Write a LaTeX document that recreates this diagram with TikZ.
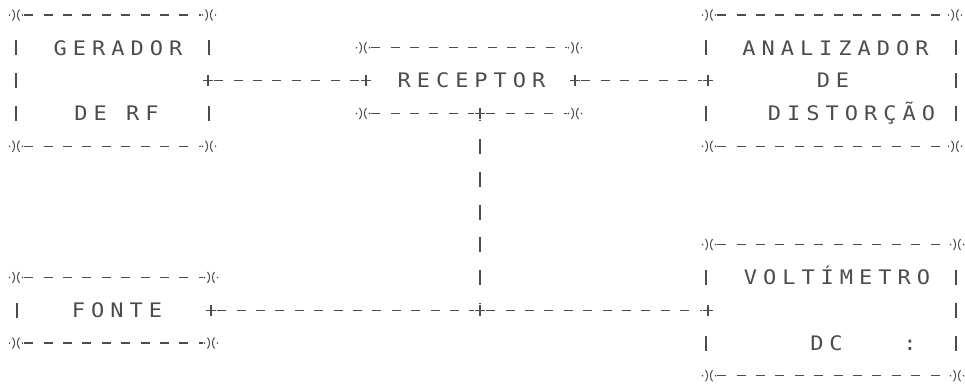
\documentclass[tikz,border=0pt]{standalone}
\usepackage{fontspec}
\newfontfamily\dotfont[LetterSpace=30,FakeStretch=1.1]{DejaVu Sans Mono}
\colorlet{ink}{black!70}
\tikzset{
  label/.style={font=\dotfont\fontsize{20}{20}\selectfont, text=ink, inner sep=0, anchor=base},
  rule/.style={draw=ink, line width=1.1pt, dash pattern=on 9pt off 10.4pt},
  wire/.style={draw=ink, line width=1.1pt, dash pattern=on 9pt off 10.4pt},
  vwire/.style={draw=ink, line width=1.4pt, dash pattern=on 15pt off 17.8pt, dash phase=13.5pt},
  bar/.style={draw=ink, line width=1.4pt},
  star/.style={minimum size=16pt, inner sep=0, path picture={
    \draw[ink, line width=1pt] (path picture bounding box.center) ++(-3.5pt,5.5pt) to[out=-50,in=50] ++(0,-11pt);
    \draw[ink, line width=1pt] (path picture bounding box.center) ++(3.5pt,5.5pt) to[out=-130,in=130] ++(0,-11pt);
    \fill[ink] (path picture bounding box.center) ++(-6.5pt,0) circle (.9pt) ++(13pt,0) circle (.9pt);}},
  port/.style={minimum size=12pt, inner sep=0, path picture={
    \draw[ink, line width=1.2pt] (path picture bounding box.center) ++(0,5.5pt) -- ++(0,-11pt);
    \draw[ink, line width=1.2pt] (path picture bounding box.center) ++(-5pt,0) -- ++(10pt,0);}},
}
\begin{document}
\begin{tikzpicture}[x=1pt,y=-1pt]
  \useasboundingbox[fill=white] (0,0) rectangle (965,383);
  % box corners
  \foreach \n/\x/\y in {g1/16/15, g2/209/15, g3/16/146.2, g4/209/146.2,
                        r1/363/47.8, r2/575/47.8, r3/363/113.4, r4/575/113.4,
                        a1/709/15, a2/955/15, a3/709/146.2, a4/955/146.2,
                        f1/16/277.4, f2/211/277.4, f3/16/343, f4/211/343,
                        v1/709/244.6, v2/957/244.6, v3/709/375.8, v4/957/375.8}
    \node[star] (\n) at (\x,\y) {};
  % ports and junctions
  \foreach \n/\x/\y in {gout/208/80.6, rin/366/80.6, rout/575/80.6, ain/708/80.6,
                        rj/480/113.4, fj/480/310.2, fout/211/310.2, vin/708/310.2}
    \node[port] (\n) at (\x,\y) {};
  % top and bottom edges
  \foreach \a/\b in {g1/g2, g3/g4, r1/r2, a1/a2, a3/a4, f1/f2, f3/f4, v1/v2, v3/v4}
    \draw[rule] (\a) -- (\b);
  \draw[rule] (r3) -- (rj) -- (r4);
  % side bars
  \foreach \x/\y in {16/47.8, 16/80.6, 16/113.4, 209/47.8, 209/113.4,
                     706/47.8, 706/113.4, 956/47.8, 956/80.6, 956/113.4,
                     17/310.2, 706/277.4, 706/343, 956/277.4, 956/310.2, 956/343}
    \draw[bar] (\x,\y-7.5) -- (\x,\y+7.5);
  % labels
  \node[label] (t1) at (118,55) {GERADOR};
  \node[label] (t2) at (116.5,120.6) {DE RF};
  \node[label] (t3) at (471.5,87.8) {RECEPTOR};
  \node[label] (t4) at (835.5,55) {ANALIZADOR};
  \node[label] (t5) at (833,87.8) {DE};
  \node[label] (t6) at (851.5,120.6) {DISTORÇÃO};
  \node[label] (t7) at (117,317.4) {FONTE};
  \node[label] (t8) at (837,284.6) {VOLTÍMETRO};
  \node[label] (t9) at (826.5,350.2) {DC};
  \node[label] (t10) at (910,350.2) {:};
  % connections
  \draw[wire] (gout) -- (rin);
  \draw[wire] (rout) -- (ain);
  \draw[vwire] (rj) -- (fj);
  \draw[wire] (fout) -- (fj) -- (vin);
\end{tikzpicture}
\end{document}
